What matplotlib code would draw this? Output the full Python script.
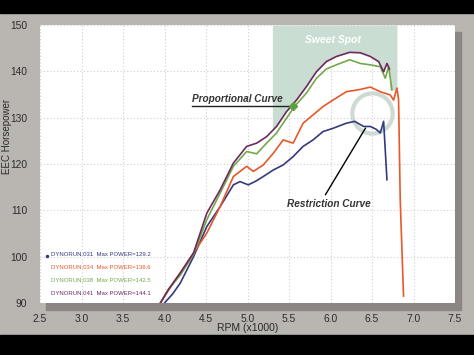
import numpy as np
import matplotlib
matplotlib.use("Agg")
import matplotlib.pyplot as plt
from matplotlib.patches import Rectangle

# ---------------- data ----------------
rpm_031 = [4.00, 4.10, 4.19, 4.35, 4.51, 4.67, 4.83, 4.91, 5.01, 5.10, 5.19, 5.31, 5.43, 5.55,
           5.67, 5.79, 5.91, 6.03, 6.19, 6.29, 6.40, 6.48, 6.55, 6.60, 6.64, 6.68]
hp_031 = [90.0, 92.0, 94.3, 100.0, 106.5, 110.8, 115.5, 116.2, 115.5, 116.3, 117.3, 118.7, 119.8, 121.6,
          123.8, 125.2, 127.0, 127.7, 128.8, 129.2, 128.1, 128.1, 127.5, 126.7, 129.2, 116.6]

rpm_034 = [3.95, 4.05, 4.19, 4.35, 4.51, 4.67, 4.83, 4.99, 5.07, 5.19, 5.31, 5.43, 5.55, 5.67,
           5.79, 5.91, 6.03, 6.19, 6.36, 6.48, 6.60, 6.72, 6.76, 6.80, 6.82, 6.84, 6.88]
hp_034 = [90.0, 92.8, 96.5, 100.8, 105.1, 110.8, 117.3, 119.5, 118.4, 119.8, 122.3, 125.2, 124.5, 128.8,
          130.6, 132.4, 133.8, 135.6, 136.1, 136.6, 135.6, 134.9, 133.8, 136.4, 134.0, 112.3, 91.5]

rpm_038 = [3.95, 4.05, 4.19, 4.35, 4.51, 4.67, 4.83, 4.99, 5.11, 5.23, 5.35, 5.47, 5.57, 5.71,
           5.83, 5.95, 6.07, 6.23, 6.36, 6.48, 6.60, 6.66, 6.70, 6.74]
hp_038 = [90.0, 93.0, 96.0, 100.5, 108.0, 113.7, 119.5, 122.7, 122.2, 124.5, 126.7, 129.9, 132.5, 135.3,
          138.5, 140.5, 141.4, 142.5, 141.7, 141.4, 141.0, 138.5, 141.0, 136.0]

rpm_041 = [3.95, 4.05, 4.19, 4.35, 4.51, 4.67, 4.83, 4.99, 5.11, 5.23, 5.35, 5.47, 5.59, 5.71,
           5.83, 5.95, 6.07, 6.23, 6.36, 6.48, 6.58, 6.64, 6.68, 6.71]
hp_041 = [90.0, 93.0, 96.5, 100.8, 109.4, 114.4, 120.2, 123.8, 124.5, 125.9, 128.1, 131.3, 133.8, 136.7,
          139.9, 142.1, 143.2, 144.1, 144.0, 143.2, 142.1, 139.9, 141.7, 140.5]

run_names = ["DYNORUN.031", "DYNORUN.034", "DYNORUN.038", "DYNORUN.041"]
max_power = ["129.2", "136.6", "142.5", "144.1"]
colors = ["#353a7c", "#e8582a", "#74a84a", "#6e2a5e"]

x_ticks = [2.5, 3.0, 3.5, 4.0, 4.5, 5.0, 5.5, 6.0, 6.5, 7.0, 7.5]
y_ticks = [90, 100, 110, 120, 130, 140, 150]
sweet_spot = (5.3, 6.8)

# ---------------- figure ----------------
W, H = 474, 355
plt.rcParams["font.family"] = ["Liberation Sans", "DejaVu Sans"]

fig = plt.figure(figsize=(W / 100, H / 100), dpi=100, facecolor="#b9b5b1")

# black bands
fig.patches.append(Rectangle((0, 1 - 13 / H), 1, 13 / H, transform=fig.transFigure,
                             color="black", zorder=-2))
fig.patches.append(Rectangle((0, 0), 1, 20 / H, transform=fig.transFigure,
                             color="black", zorder=-2))

ax_l, ax_r, ax_t, ax_b = 40, 455, 25, 303
pos = [ax_l / W, 1 - ax_b / H, (ax_r - ax_l) / W, (ax_b - ax_t) / H]
# shadow
fig.patches.append(Rectangle((pos[0] + 6 / W, pos[1] - 7 / H), pos[2], pos[3],
                             transform=fig.transFigure, color="#8b8583", zorder=-1))

ax = fig.add_axes(pos)
ax.set_zorder(1)
ax.set_facecolor("white")
for s in ax.spines.values():
    s.set_visible(False)
ax.set_xlim(2.5, 7.5)
ax.set_ylim(90, 150)
ax.set_xticks(x_ticks)
ax.set_xticklabels([f"{v:.1f}" for v in x_ticks])
ax.set_yticks(y_ticks)
ax.set_yticklabels([str(v) for v in y_ticks])
ax.tick_params(length=0, labelsize=7.4, colors="#2e2e2e")
ax.tick_params(axis="x", pad=8)
ax.tick_params(axis="y", pad=9)
ax.grid(True, color="#cfcfcf", linestyle=(0, (1, 2)), linewidth=0.8)
ax.set_axisbelow(True)
ax.set_xlabel("RPM (x1000)", fontsize=7.5, color="#2a2a2a")
ax.xaxis.set_label_coords(0.5, -0.072)
ax.set_ylabel("EEC Horsepower", fontsize=7.0, color="#2a2a2a")
ax.yaxis.set_label_coords(-0.068, 0.60)

# sweet spot shading above top curve
gx = np.linspace(sweet_spot[0], sweet_spot[1], 300)
low = np.interp(gx, rpm_041, hp_041, right=136.0)
ax.fill_between(gx, low, 150, color="#c9ddd2", lw=0, zorder=1)
ax.text(6.025, 146.8, "Sweet Spot", color="white", fontsize=7.5, fontweight="bold",
        fontstyle="italic", ha="center", va="center", zorder=2)

# highlight ring
ax.plot([6.50], [131.0], marker="o", markersize=29, markerfacecolor="none",
        markeredgecolor="#cddbd3", markeredgewidth=3, zorder=2)

series = [(rpm_031, hp_031), (rpm_034, hp_034), (rpm_038, hp_038), (rpm_041, hp_041)]
for (xs, ys), c in zip(series, colors):
    ax.plot(xs, ys, color=c, lw=1.2, zorder=3, solid_joinstyle="round")

# annotations
ax.plot([4.33, 5.55], [132.5, 132.5], color="#222222", lw=1.0, zorder=4)
ax.plot([5.55], [132.5], marker="D", markersize=4, color="#5aa040", zorder=5)
ax.text(4.33, 133.0, "Proportional Curve", fontsize=7.2, fontweight="bold", fontstyle="italic",
        color="#333333", ha="left", va="bottom", zorder=4)
ax.plot([5.94, 6.42], [113.4, 127.7], color="black", lw=1.0, zorder=4)
ax.text(5.98, 111.4, "Restriction Curve", fontsize=7.2, fontweight="bold", fontstyle="italic",
        color="#333333", ha="center", va="center", zorder=4)

# legend text
leg_y = [100.4, 97.6, 94.8, 92.0]
for name, mp, c, yy in zip(run_names, max_power, colors, leg_y):
    ax.text(2.63, yy, f"{name}  Max POWER={mp}", fontsize=4.3, color=c, ha="left", va="center")
ax.plot([2.58], [100.2], marker="o", markersize=1.5, color=colors[0])

fig.savefig("out.png", dpi=100, facecolor=fig.get_facecolor())
